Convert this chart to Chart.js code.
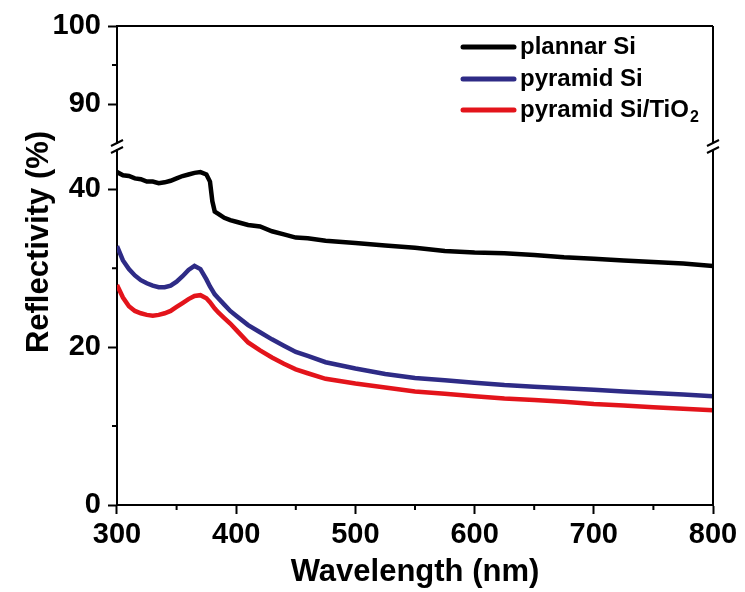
<!DOCTYPE html>
<html>
<head>
    <title>Reflectivity</title>
    <script src="https://cdn.jsdelivr.net/npm/chart.js@4.4.0/dist/chart.umd.min.js"></script>
    <style>
        body {
            margin: 0;
            background-color: #ffffff;
        }
        .chart-container {
            width: 745px;
            height: 592px;
        }
    </style>
</head>
<body>
    <div class="chart-container">
        <canvas id="reflChart"></canvas>
    </div>

    <script>
        // Wavelength (nm) and reflectivity (%)
        const wavelengths = [300, 305, 310, 315, 320, 325, 330, 335, 340, 345, 350, 355, 360, 365, 370, 375, 378, 380, 382, 385, 390, 395, 400, 410, 420, 430, 440, 450, 460, 475, 500, 525, 550, 575, 600, 625, 650, 675, 700, 725, 750, 775, 800];
        const planarSi = [42.2, 41.8, 41.7, 41.4, 41.3, 41.0, 41.0, 40.8, 40.9, 41.1, 41.4, 41.7, 41.9, 42.1, 42.2, 41.9, 41.0, 38.5, 37.2, 36.9, 36.4, 36.1, 35.9, 35.5, 35.3, 34.7, 34.3, 33.9, 33.8, 33.5, 33.2, 32.9, 32.6, 32.2, 32.0, 31.9, 31.7, 31.4, 31.2, 31.0, 30.8, 30.6, 30.3];
        const pyramidSi = [32.8, 31.0, 29.9, 29.1, 28.5, 28.1, 27.8, 27.6, 27.6, 27.8, 28.3, 29.0, 29.8, 30.3, 29.9, 28.6, 27.7, 27.2, 26.7, 26.2, 25.4, 24.6, 24.0, 22.8, 21.9, 21.0, 20.2, 19.4, 18.9, 18.1, 17.3, 16.6, 16.1, 15.8, 15.5, 15.2, 15.0, 14.8, 14.6, 14.4, 14.2, 14.0, 13.8];
        const pyramidSiTiO2 = [27.9, 26.3, 25.2, 24.6, 24.3, 24.1, 24.0, 24.1, 24.3, 24.6, 25.1, 25.6, 26.1, 26.5, 26.6, 26.2, 25.7, 25.3, 24.9, 24.4, 23.7, 23.0, 22.2, 20.6, 19.6, 18.7, 17.9, 17.2, 16.7, 16.0, 15.4, 14.9, 14.4, 14.1, 13.8, 13.5, 13.3, 13.1, 12.8, 12.6, 12.4, 12.2, 12.0];

        const seriesLabels = ['plannar Si', 'pyramid Si', 'pyramid Si/TiO'];
        const seriesColors = ['#000000', '#2e2b86', '#e3141b'];
        const yLowerTicks = [0, 20, 40];
        const yUpperTicks = [90, 100];
        const xMinorTicks = [350, 450, 550, 650, 750];
        const yMinorTicks = [10, 30];
        const yUpperMinorTicks = [95];

        const FONT = "'Liberation Sans', Arial, sans-serif";

        function toPoints(values) {
            return wavelengths.map((w, i) => ({x: w, y: values[i]}));
        }

        // frame, axis breaks, minor ticks, y title and legend
        const decorPlugin = {
            id: 'decor',
            afterDraw(chart) {
                const ctx = chart.ctx;
                const area = chart.chartArea;
                const x = chart.scales.x;
                const yLow = chart.scales.y;
                const yUp = chart.scales.yUp;

                ctx.save();
                ctx.strokeStyle = '#000';
                ctx.lineWidth = 2;
                ctx.lineCap = 'butt';

                // top and right border, broken like the left axis
                ctx.beginPath();
                ctx.moveTo(area.left - 1, area.top);
                ctx.lineTo(area.right, area.top);
                ctx.moveTo(area.right, area.top);
                ctx.lineTo(area.right, yUp.bottom);
                ctx.moveTo(area.right, yLow.top);
                ctx.lineTo(area.right, area.bottom);
                ctx.stroke();

                // break marks
                [area.left, area.right].forEach(ax => {
                    [yUp.bottom, yLow.top].forEach(by => {
                        ctx.beginPath();
                        ctx.moveTo(ax - 6, by + 3);
                        ctx.lineTo(ax + 6, by - 3);
                        ctx.stroke();
                    });
                });

                // minor ticks
                ctx.beginPath();
                xMinorTicks.forEach(v => {
                    const px = x.getPixelForValue(v);
                    ctx.moveTo(px, area.bottom);
                    ctx.lineTo(px, area.bottom + 5);
                });
                yMinorTicks.forEach(v => {
                    const py = yLow.getPixelForValue(v);
                    ctx.moveTo(area.left - 5, py);
                    ctx.lineTo(area.left, py);
                });
                yUpperMinorTicks.forEach(v => {
                    const py = yUp.getPixelForValue(v);
                    ctx.moveTo(area.left - 5, py);
                    ctx.lineTo(area.left, py);
                });
                ctx.stroke();

                // y axis title spanning both segments
                ctx.fillStyle = '#000';
                ctx.font = 'bold 31px ' + FONT;
                ctx.textAlign = 'center';
                ctx.textBaseline = 'middle';
                ctx.translate(39, 242);
                ctx.rotate(-Math.PI / 2);
                ctx.fillText('Reflectivity (%)', 0, 0);
                ctx.restore();

                // legend
                ctx.save();
                const rows = [47, 79, 110];
                ctx.textBaseline = 'middle';
                ctx.textAlign = 'left';
                chart.data.datasets.forEach((ds, i) => {
                    const ry = rows[i];
                    ctx.strokeStyle = ds.borderColor;
                    ctx.lineWidth = 5;
                    ctx.lineCap = 'round';
                    ctx.beginPath();
                    ctx.moveTo(463, ry);
                    ctx.lineTo(514, ry);
                    ctx.stroke();
                    ctx.fillStyle = '#000';
                    ctx.font = 'bold 24px ' + FONT;
                    ctx.fillText(ds.label, 520, ry);
                    if (i === 2) {
                        const w = ctx.measureText(ds.label).width;
                        ctx.font = 'bold 16px ' + FONT;
                        ctx.fillText('2', 520 + w + 1, ry + 8);
                    }
                });
                ctx.restore();
            }
        };

        const tickFont = {family: FONT, size: 29, weight: 'bold'};
        const axisGrid = {
            drawOnChartArea: false,
            drawTicks: true,
            tickLength: 9,
            tickWidth: 2,
            tickColor: '#000'
        };
        const yWidth = scale => { scale.width = 67; };

        const ctx = document.getElementById('reflChart').getContext('2d');
        const chart = new Chart(ctx, {
            type: 'line',
            data: {
                datasets: [planarSi, pyramidSi, pyramidSiTiO2].map((vals, i) => ({
                    label: seriesLabels[i],
                    data: toPoints(vals),
                    borderColor: seriesColors[i],
                    backgroundColor: seriesColors[i],
                    borderWidth: 4.5,
                    pointRadius: 0,
                    tension: 0,
                    yAxisID: 'y'
                }))
            },
            options: {
                responsive: true,
                maintainAspectRatio: false,
                animation: false,
                layout: {
                    padding: {left: 50, right: 32, top: 26, bottom: 1}
                },
                plugins: {
                    legend: {display: false},
                    tooltip: {enabled: false}
                },
                scales: {
                    x: {
                        type: 'linear',
                        min: 300,
                        max: 800,
                        grid: axisGrid,
                        border: {display: true, color: '#000', width: 2},
                        ticks: {
                            stepSize: 100,
                            color: '#000',
                            font: tickFont,
                            padding: 4,
                            maxRotation: 0
                        },
                        title: {
                            display: true,
                            text: 'Wavelength (nm)',
                            color: '#000',
                            font: {family: FONT, size: 31, weight: 'bold'},
                            padding: 0
                        },
                        afterFit: scale => { scale.height = 86; }
                    },
                    y: {
                        type: 'linear',
                        position: 'left',
                        stack: 'left',
                        stackWeight: 355,
                        min: 0,
                        max: 45,
                        grid: axisGrid,
                        border: {display: true, color: '#000', width: 2},
                        ticks: {
                            color: '#000',
                            font: tickFont,
                            padding: 7
                        },
                        afterBuildTicks: scale => {
                            scale.ticks = yLowerTicks.map(v => ({value: v}));
                        },
                        afterFit: yWidth
                    },
                    yGap: {
                        type: 'linear',
                        position: 'left',
                        stack: 'left',
                        stackWeight: 7,
                        min: 0,
                        max: 1,
                        grid: {display: false},
                        border: {display: false},
                        ticks: {display: false},
                        afterFit: yWidth
                    },
                    yUp: {
                        type: 'linear',
                        position: 'left',
                        stack: 'left',
                        stackWeight: 117,
                        min: 85,
                        max: 100,
                        grid: axisGrid,
                        border: {display: true, color: '#000', width: 2},
                        ticks: {
                            color: '#000',
                            font: tickFont,
                            padding: 7
                        },
                        afterBuildTicks: scale => {
                            scale.ticks = yUpperTicks.map(v => ({value: v}));
                        },
                        afterFit: yWidth
                    }
                }
            },
            plugins: [decorPlugin]
        });
    </script>
</body>
</html>
